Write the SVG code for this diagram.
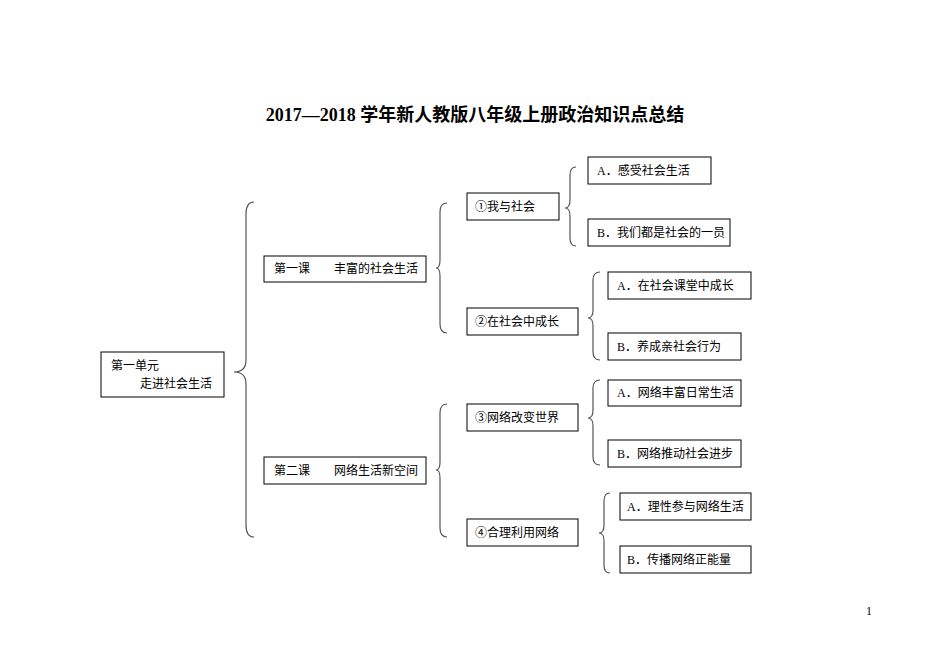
<svg xmlns="http://www.w3.org/2000/svg" width="950" height="672" viewBox="0 0 950 672">
<style>
text{font-family:"Liberation Serif","Noto Sans CJK SC",serif;font-size:12px;fill:#000}
.b{fill:#fff;stroke:#000;stroke-width:1}
.br{fill:none;stroke:#555;stroke-width:1.2}
.t{font-size:18px;font-weight:bold}
</style>
<rect width="950" height="672" fill="#fff"/>
<text class="t" x="475" y="121" text-anchor="middle">2017—2018 学年新人教版八年级上册政治知识点总结</text>
<g id="connectors">
<path class="br" d="M254,202 Q246,202 246,214 V360 Q246,372 234,372 Q246,372 246,384 V525 Q246,537 254,537"/>
<path class="br" d="M447,203 Q440,203 440,212 V260 Q440,268 436,268 Q440,268 440,276 V324 Q440,333 447,333"/>
<path class="br" d="M447,404 Q440,404 440,413 V462 Q440,470 436,470 Q440,470 440,478 V528 Q440,537 447,537"/>
<path class="br" d="M576,167 Q570,167 570,175 V200 Q570,208 565,208 Q570,208 570,216 V238 Q570,246 576,246"/>
<path class="br" d="M600,272 Q593,272 593,280 V310 Q593,318 588,318 Q593,318 593,326 V352 Q593,360 600,360"/>
<path class="br" d="M600,380 Q593,380 593,388 V410 Q593,418 588,418 Q593,418 593,426 V457 Q593,465 600,465"/>
<path class="br" d="M610,493 Q604,493 604,501 V525 Q604,533 599,533 Q604,533 604,541 V565 Q604,573 610,573"/>
</g>
<g id="unit"><rect class="b" x="101" y="352" width="123" height="45"/><text x="111" y="370">第一单元</text><text x="140" y="388">走进社会生活</text></g>
<g id="lesson1"><rect class="b" x="264" y="256" width="162" height="26"/><text x="274" y="273">第一课　　丰富的社会生活</text></g>
<g id="lesson2"><rect class="b" x="264" y="457" width="162" height="27"/><text x="274" y="475">第二课　　网络生活新空间</text></g>
<g id="n1"><rect class="b" x="467" y="193" width="92" height="27"/><text x="475" y="211">①我与社会</text></g>
<g id="n2"><rect class="b" x="467" y="308" width="111" height="27"/><text x="475" y="326">②在社会中成长</text></g>
<g id="n3"><rect class="b" x="467" y="404" width="111" height="27"/><text x="475" y="422">③网络改变世界</text></g>
<g id="n4"><rect class="b" x="467" y="519" width="111" height="27"/><text x="475" y="537">④合理利用网络</text></g>
<g id="n1a"><rect class="b" x="588" y="157" width="123" height="27"/><text x="597" y="175">A．感受社会生活</text></g>
<g id="n1b"><rect class="b" x="588" y="219" width="142" height="27"/><text x="597" y="237">B．我们都是社会的一员</text></g>
<g id="n2a"><rect class="b" x="608" y="272" width="143" height="27"/><text x="617" y="290">A．在社会课堂中成长</text></g>
<g id="n2b"><rect class="b" x="608" y="333" width="133" height="27"/><text x="617" y="351">B．养成亲社会行为</text></g>
<g id="n3a"><rect class="b" x="608" y="380" width="133" height="26"/><text x="617" y="397">A．网络丰富日常生活</text></g>
<g id="n3b"><rect class="b" x="608" y="440" width="133" height="27"/><text x="617" y="458">B．网络推动社会进步</text></g>
<g id="n4a"><rect class="b" x="620" y="493" width="131" height="27"/><text x="627" y="511">A．理性参与网络生活</text></g>
<g id="n4b"><rect class="b" x="620" y="546" width="131" height="27"/><text x="627" y="564">B．传播网络正能量</text></g>
<text x="866" y="615" font-size="10">1</text>
</svg>
